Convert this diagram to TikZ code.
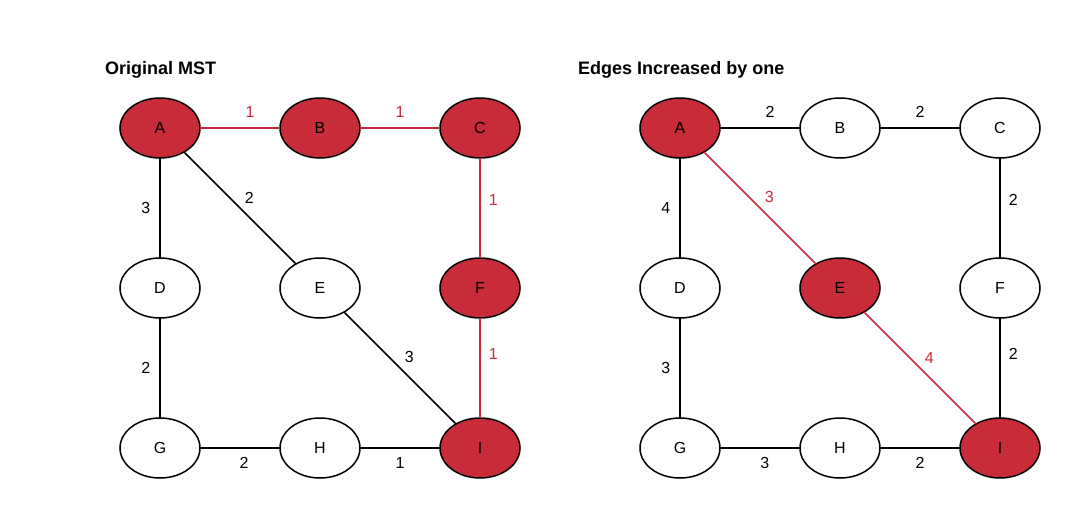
\documentclass[tikz,border=0pt]{standalone}
\usepackage{fontspec}
\setmainfont{Liberation Sans}
\usepackage{tikz}
\usetikzlibrary{positioning,shapes}
\definecolor{mstred}{RGB}{200,44,56}
\tikzset{
vert/.style={ellipse,draw=black,line width=1.5pt,minimum width=80pt,minimum height=60pt,inner sep=0pt,outer sep=0pt,font=\fontsize{16}{19}\selectfont},
redvert/.style={vert,fill=mstred},
whitevert/.style={vert,fill=white},
wline/.style={line width=1.5pt,black},
redline/.style={line width=1.5pt,mstred},
wlabel/.style={inner sep=2pt,font=\fontsize{16}{19}\selectfont},
title/.style={anchor=base west,inner sep=0pt,font=\bfseries\fontsize{18}{21}\selectfont}
}
\begin{document}
\begin{tikzpicture}[x=1pt,y=-1pt]
\useasboundingbox (0,0) rectangle (1080,520);

%titles
\node[title] (ltitle) at (105,74) {Original MST};
\node[title] (rtitle) at (578,74) {Edges Increased by one};

%left graph
\node[redvert] (la) at (160,128) {A};
\node[redvert, right=80pt of la] (lb) {B};
\node[redvert, right=80pt of lb] (lc) {C};
\node[whitevert, below=100pt of la] (ld) {D};
\node[whitevert, below=100pt of lb] (le) {E};
\node[redvert, below=100pt of lc] (lf) {F};
\node[whitevert, below=100pt of ld] (lg) {G};
\node[whitevert, below=100pt of le] (lh) {H};
\node[redvert, below=100pt of lf] (li) {I};

\draw[redline] (la) -- node[wlabel,pos=.625,above=8pt,text=mstred] {1} (lb);
\draw[redline] (lb) -- node[wlabel,pos=.5,above=8pt,text=mstred] {1} (lc);
\draw[wline] (la) -- node[wlabel,pos=.5,left=7pt] {3} (ld);
\draw[wline] (la) -- node[wlabel,pos=.5,above right=3pt] {2} (le);
\draw[redline] (lc) -- node[wlabel,pos=.42,right=6pt,text=mstred] {1} (lf);
\draw[wline] (ld) -- node[wlabel,pos=.5,left=7pt] {2} (lg);
\draw[wline] (le) -- node[wlabel,pos=.5,above right=3pt] {3} (li);
\draw[redline] (lf) -- node[wlabel,pos=.36,right=6pt,text=mstred] {1} (li);
\draw[wline] (lg) -- node[wlabel,pos=.55,below=7pt] {2} (lh);
\draw[wline] (lh) -- node[wlabel,pos=.5,below=7pt] {1} (li);

%right graph
\node[redvert] (ra) at (680,128) {A};
\node[whitevert, right=80pt of ra] (rb) {B};
\node[whitevert, right=80pt of rb] (rc) {C};
\node[whitevert, below=100pt of ra] (rd) {D};
\node[redvert, below=100pt of rb] (re) {E};
\node[whitevert, below=100pt of rc] (rf) {F};
\node[whitevert, below=100pt of rd] (rg) {G};
\node[whitevert, below=100pt of re] (rh) {H};
\node[redvert, below=100pt of rf] (ri) {I};

\draw[wline] (ra) -- node[wlabel,pos=.625,above=8pt] {2} (rb);
\draw[wline] (rb) -- node[wlabel,pos=.5,above=8pt] {2} (rc);
\draw[wline] (ra) -- node[wlabel,pos=.5,left=7pt] {4} (rd);
\draw[redline] (ra) -- node[wlabel,pos=.5,above right=3pt,text=mstred] {3} (re);
\draw[wline] (rc) -- node[wlabel,pos=.42,right=6pt] {2} (rf);
\draw[wline] (rd) -- node[wlabel,pos=.5,left=7pt] {3} (rg);
\draw[redline] (re) -- node[wlabel,pos=.5,above right=3pt,text=mstred] {4} (ri);
\draw[wline] (rf) -- node[wlabel,pos=.36,right=6pt] {2} (ri);
\draw[wline] (rg) -- node[wlabel,pos=.56,below=7pt] {3} (rh);
\draw[wline] (rh) -- node[wlabel,pos=.5,below=7pt] {2} (ri);
\end{tikzpicture}
\end{document}
